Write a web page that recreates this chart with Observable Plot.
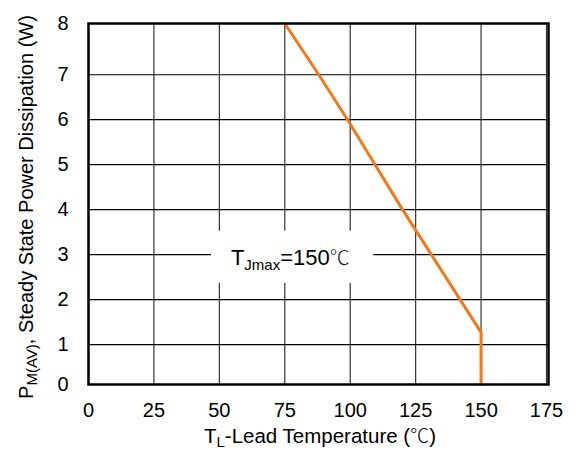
<!DOCTYPE html>
<html><head><meta charset="utf-8">
<script src="https://cdn.jsdelivr.net/npm/d3@7"></script>
<script src="https://cdn.jsdelivr.net/npm/@observablehq/plot@0.6"></script>
<style>
body{margin:0;background:#fff;}
svg{font-family:"Liberation Sans",Arial,sans-serif;}
</style>
</head><body>
<div id="chart"></div>
<script>
// values
const temps = [75, 88, 99, 109.5, 120, 131, 142, 150, 150];
const power = [8, 7, 6, 5, 4, 3, 2, 1.27, 0];
const xTicks = [0, 25, 50, 75, 100, 125, 150, 175];
const yTicks = [0, 1, 2, 3, 4, 5, 6, 7, 8];
const labelBox = [{x1: 47, x2: 109, y1: 2.36, y2: 3.52}];
const labelPos = {x: 77.3, y: 2.76};

const data = temps.map((t, i) => ({t, p: power[i]}));

// the original grid is slightly uneven (first and last steps differ)
const warp = d3.scaleLinear().domain([0, 1, 7, 8]).range([0, 40, 310, 361.3]);

const plot = Plot.plot({
  width: 578, height: 451,
  marginLeft: 88, marginRight: 30, marginTop: 23, marginBottom: 67,
  style: {fontFamily: '"Liberation Sans", Arial, sans-serif', fontSize: "20px", background: "#fff"},
  x: {domain: [0, 175], range: [88, 546], ticks: xTicks, label: null},
  y: {transform: warp, domain: [0, 361.3], label: null},
  marks: [
    Plot.gridX(xTicks, {stroke: "#333", strokeOpacity: 1, strokeWidth: 1.2}),
    Plot.gridY(yTicks, {stroke: "#000", strokeOpacity: 1, strokeWidth: 1.2}),
    Plot.rect(labelBox, {x1: "x1", x2: "x2", y1: "y1", y2: "y2", fill: "#fff"}),
    Plot.line(data, {x: "t", y: "p", stroke: "#EE7A1B", strokeWidth: 3}),
    Plot.frame({stroke: "#000", strokeWidth: 2.5}),
    Plot.axisX(xTicks, {tickSize: 0, tickPadding: 18, fontSize: 20, fill: "#000"}),
    Plot.axisY(yTicks, {tickSize: 0, tickPadding: 20, fontSize: 20, fill: "#000", text: (d) => String(d)})
  ]
});
document.getElementById("chart").appendChild(plot);

const sx = plot.scale("x"), sy = plot.scale("y");
const yPix = (v) => d3.scaleLinear(sy.domain, sy.range)(warp(v));
const svg = d3.select(plot);

// annotation
const ann = svg.append("text")
  .attr("x", sx.apply(labelPos.x)).attr("y", yPix(labelPos.y))
  .attr("text-anchor", "middle").attr("font-size", 22).attr("fill", "#000");
ann.append("tspan").text("T");
ann.append("tspan").attr("font-size", 15).attr("dy", 5).text("Jmax");
ann.append("tspan").attr("dy", -5).text("=150");
ann.append("tspan").attr("font-size", 20).attr("font-family", '"Noto Sans CJK SC"').attr("font-weight", 300).attr("fill", "#222").text("℃");

// x axis label
const xl = svg.append("text")
  .attr("x", 320).attr("y", 443)
  .attr("text-anchor", "middle").attr("font-size", 20.5).attr("fill", "#000");
xl.append("tspan").text("T");
xl.append("tspan").attr("font-size", 15).attr("dy", 4).text("L");
xl.append("tspan").attr("dy", -4).text("-Lead Temperature (");
xl.append("tspan").attr("font-family", '"Noto Sans CJK SC"').attr("font-weight", 300).attr("font-size", 19).text("℃");
xl.append("tspan").text(")");

// y axis label
const yl = svg.append("text")
  .attr("transform", `translate(33,207) rotate(-90)`)
  .attr("text-anchor", "middle").attr("font-size", 20).attr("fill", "#000");
yl.append("tspan").text("P");
yl.append("tspan").attr("font-size", 15).attr("dy", 4).text("M(AV)");
yl.append("tspan").attr("dy", -4).text(", Steady State Power Dissipation (W)");
</script>
</body></html>
